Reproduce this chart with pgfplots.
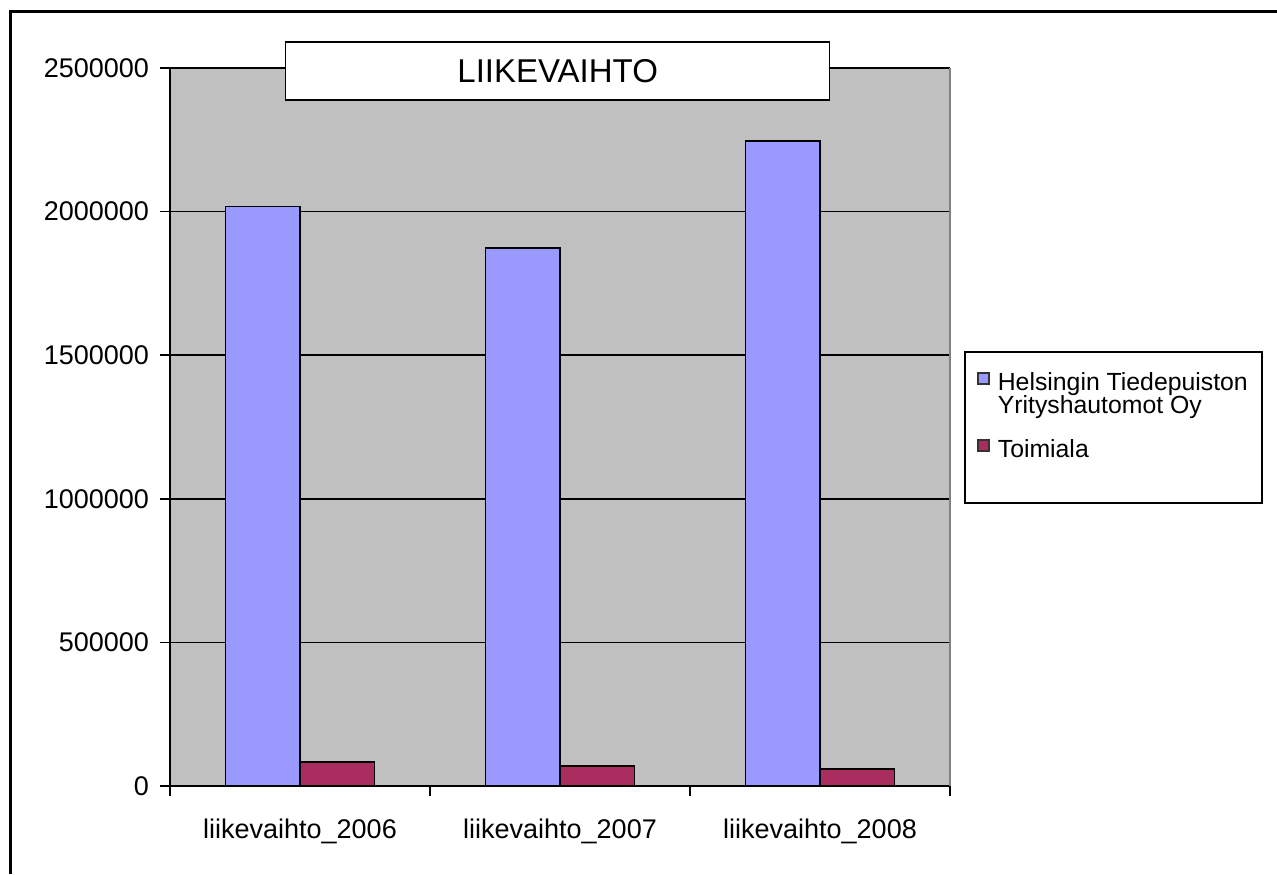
\documentclass[border=0pt]{standalone}
\usepackage{pgfplots}
\pgfplotsset{compat=1.18}
\usepackage{fontspec}
\setmainfont{Liberation Sans}
\definecolor{barblue}{RGB}{153,153,255}
\definecolor{barred}{RGB}{170,45,95}
\definecolor{plotgray}{RGB}{192,192,192}
\begin{document}
\begin{tikzpicture}
\useasboundingbox (0,0) rectangle (638.5pt,437pt);
\fill[white] (0,0) rectangle (638.5pt,437pt);
\draw[black, line width=1.5pt] (5pt,0) -- (5pt,431pt) -- (638.5pt,431pt);
\begin{axis}[
  at={(85pt,44pt)}, anchor=south west,
  scale only axis, width=390pt, height=359pt,
  ybar=0pt, bar width=37.25pt,
  xmin=-0.5, xmax=2.5, ymin=0, ymax=2500000,
  axis background/.style={fill=plotgray},
  axis x line*=bottom, axis y line*=left,
  axis line style={black, line width=0.8pt},
  xtick={0,1,2},
  xticklabels={liikevaihto\_2006, liikevaihto\_2007, liikevaihto\_2008},
  minor xtick={-0.5,0.5,1.5,2.5},
  xtick style={draw=none},
  minor x tick style={draw=black, line width=0.8pt},
  ytick={0,500000,1000000,1500000,2000000,2500000},
  scaled y ticks=false,
  yticklabel style={/pgf/number format/fixed, /pgf/number format/1000 sep={}, xshift=-2pt},
  /pgf/number format/assume math mode=true,
  ticklabel style={font=\fontsize{13.5}{16}\selectfont},
  xticklabel style={yshift=-8pt},
  tick align=outside, major tick length=5pt, minor tick length=5pt,
  ytick style={black, line width=0.8pt},
  ymajorgrids, grid style={black, line width=0.8pt},
  legend style={at={(1.019,0.6045)}, anchor=north west, xshift=6pt, yshift=-8pt,
    draw=none, fill=none, inner sep=0pt,
    font=\fontsize{12.4}{11.5}\selectfont, row sep=19pt,
    legend cell align=left,
    nodes={inner xsep=4pt}},
  legend image code/.code={\draw[#1, draw=black!80, line width=0.8pt] (0pt,-0.5pt) rectangle (5.5pt,5pt);},
  clip=false,
]
\addplot[fill=barblue, draw=black, line width=0.8pt] coordinates {(0,2018000) (1,1873000) (2,2246000)};
\addplot[fill=barred, draw=black, line width=0.8pt] coordinates {(0,84000) (1,70000) (2,59000)};
\legend{{\renewcommand{\arraystretch}{0.8}\begin{tabular}[t]{@{}l@{}}Helsingin Tiedepuiston\\Yrityshautomot Oy\end{tabular}}, Toimiala}
\draw[gray, line width=0.8pt] (rel axis cs:1,0) -- (rel axis cs:1,1);
\draw[black, line width=0.8pt] (rel axis cs:1.019,0.6045) rectangle (rel axis cs:1.4,0.394);
\node[draw=black, fill=white, line width=0.8pt, minimum width=272pt, minimum height=29pt, inner sep=0pt,
  font=\fontsize{16.5}{19}\selectfont] at (rel axis cs:0.497,0.996) {LIIKEVAIHTO};
\end{axis}
\end{tikzpicture}
\end{document}
